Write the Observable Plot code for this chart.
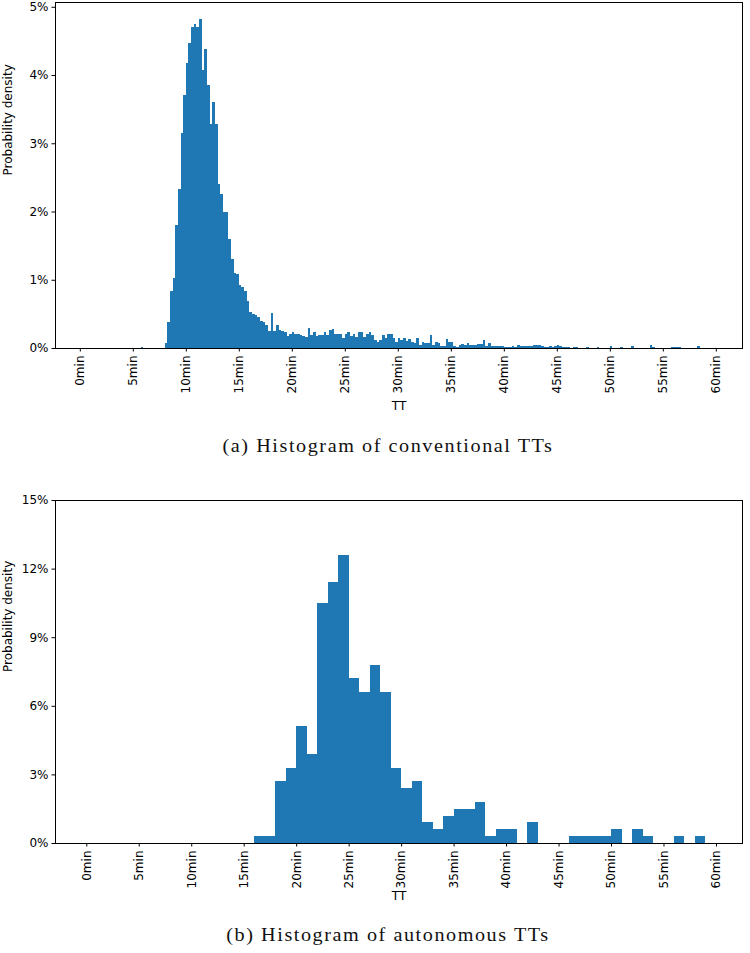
<!DOCTYPE html>
<html>
<head>
<meta charset="utf-8">
<script src="https://cdn.jsdelivr.net/npm/d3@7"></script>
<script src="https://cdn.jsdelivr.net/npm/@observablehq/plot@0.6"></script>
<style>
  html, body { margin: 0; padding: 0; background: #fff; }
  #fig { position: relative; width: 750px; height: 953px; background: #fff; }
  #fig svg { position: absolute; left: 0; }
  .caption {
    position: absolute; left: 0; width: 776px; text-align: center;
    font-family: "Liberation Serif", "DejaVu Serif", serif; font-size: 18px;
    letter-spacing: 1.4px; color: #111; white-space: nowrap;
    transform: scaleX(1.12); transform-origin: 388px 50%;
  }
</style>
</head>
<body>
<div id="fig"></div>
<script>
// Travel-time histograms, share of trips per bin (%)

// Conventional TTs: 15-second bins, contiguous run starting at 8.00 min
const conventionalBinWidth = 0.25;
const conventionalRunStart = 8.0;
const conventionalRunShare = [
  0.07, 0.38, 0.84, 1.02, 1.80, 2.33, 3.15, 3.70,          // 8.00 – 9.75
  4.17, 4.47, 4.71, 4.75, 4.70, 4.82, 4.08, 4.38,          // 10.00 – 11.75
  3.85, 3.28, 3.60, 3.28, 2.41, 2.25, 2.00, 2.00,          // 12.00 – 13.75
  1.60, 1.30, 1.10, 1.09, 0.92, 0.90, 0.83, 0.69,          // 14.00 – 15.75
  0.53, 0.50, 0.48, 0.45, 0.40, 0.38, 0.34, 0.25,          // 16.00 – 17.75
  0.51, 0.25, 0.34, 0.26, 0.25, 0.23, 0.18, 0.20,          // 18.00 – 19.75
  0.24, 0.21, 0.21, 0.19, 0.17, 0.16, 0.29, 0.19,          // 20.00 – 21.75
  0.24, 0.17, 0.19, 0.19, 0.24, 0.19, 0.26, 0.28,          // 22.00 – 23.75
  0.21, 0.21, 0.21, 0.15, 0.21, 0.24, 0.17, 0.21,          // 24.00 – 25.75
  0.16, 0.24, 0.23, 0.16, 0.21, 0.23, 0.19, 0.12,          // 26.00 – 27.75
  0.09, 0.12, 0.19, 0.14, 0.20, 0.20, 0.14, 0.09,          // 28.00 – 29.75
  0.14, 0.12, 0.14, 0.10, 0.13, 0.09, 0.08, 0.14,          // 30.00 – 31.75
  0.04, 0.09, 0.07, 0.07, 0.19, 0.04, 0.09, 0.07,          // 32.00 – 33.75
  0.03, 0.03, 0.13, 0.09, 0.09, 0.03, 0.02, 0.04,          // 34.00 – 35.75
  0.06, 0.04, 0.08, 0.04, 0.04, 0.04, 0.06, 0.06,          // 36.00 – 37.75
  0.12, 0.03, 0.07, 0.03, 0.03, 0.03, 0.03, 0.03,          // 38.00 – 39.75
  0.02, 0.02, 0.02, 0.03, 0.02, 0.04, 0.03, 0.03,          // 40.00 – 41.75
  0.03, 0.03, 0.03, 0.04, 0.04, 0.04, 0.03, 0.02,          // 42.00 – 43.75
  0.02, 0.03, 0.02, 0.03, 0.05, 0.03, 0.02, 0.02,          // 44.00 – 45.75
  0.02, 0.00, 0.02, 0.02                                   // 46.00 – 46.75
];
// Isolated conventional bins outside the contiguous run
const conventionalSparseStart = [5.75, 47.75, 48.75, 50.0, 51.0, 52.0, 53.75, 54.0, 55.75, 56.0, 56.25, 56.5, 58.25];
const conventionalSparseShare = [0.02, 0.02, 0.02, 0.03, 0.02, 0.03, 0.04, 0.02, 0.02, 0.02, 0.02, 0.02, 0.03];

// Autonomous TTs: 1-minute bins starting at 16 min
const autonomousBinWidth = 1;
const autonomousRunStart = 16;
const autonomousShare = [
  0.3, 0.3, 2.7, 3.3, 5.1, 3.9, 10.5, 11.4, 12.6, 7.2,     // 16 – 25
  6.6, 7.8, 6.6, 3.3, 2.4, 2.7, 0.9, 0.6, 1.2, 1.5,        // 26 – 35
  1.5, 1.8, 0.3, 0.6, 0.6, 0.0, 0.9, 0.0, 0.0, 0.0,        // 36 – 45
  0.3, 0.3, 0.3, 0.3, 0.6, 0.0, 0.6, 0.3, 0.0, 0.0,        // 46 – 55
  0.3, 0.0, 0.3                                            // 56 – 58
];

// Axis ticks
const minuteTicks = [0, 5, 10, 15, 20, 25, 30, 35, 40, 45, 50, 55, 60];
const conventionalPctTicks = [0, 1, 2, 3, 4, 5];
const autonomousPctTicks = [0, 3, 6, 9, 12, 15];

const axisLabelX = "TT";
const axisLabelY = "Probability density";
const captionTop = "(a) Histogram of conventional TTs";
const captionBottom = "(b) Histogram of autonomous TTs";

const barColor = "#1f77b4";

function toBins(start, width, shares) {
  return shares.map((v, i) => ({x1: start + i * width, x2: start + (i + 1) * width, v}));
}

const conventionalBins = toBins(conventionalRunStart, conventionalBinWidth, conventionalRunShare)
  .concat(conventionalSparseStart.map((s, i) => ({x1: s, x2: s + conventionalBinWidth, v: conventionalSparseShare[i]})))
  .filter(d => d.v > 0);
const autonomousBins = toBins(autonomousRunStart, autonomousBinWidth, autonomousShare).filter(d => d.v > 0);

function histogram({bins, xDomain, yDomain, yTicks, height, marginTop, marginBottom, labelDy}) {
  return Plot.plot({
    width: 750,
    height,
    marginLeft: 55,
    marginRight: 8,
    marginTop,
    marginBottom,
    style: {fontFamily: "DejaVu Sans, sans-serif", fontSize: "12px", background: "white", color: "black", overflow: "visible"},
    x: {domain: xDomain},
    y: {domain: yDomain},
    marks: [
      Plot.rectY(bins, {x1: "x1", x2: "x2", y: "v", fill: barColor, inset: 0, shapeRendering: "crispEdges"}),
      Plot.frame({stroke: "black", strokeWidth: 1}),
      Plot.axisX({
        ticks: minuteTicks, tickFormat: d => `${d}min`, tickRotate: -90,
        tickSize: 3.5, tickPadding: 3.5, label: null, fontSize: 12
      }),
      Plot.axisY({
        ticks: yTicks, tickFormat: d => `${d}%`,
        tickSize: 3.5, tickPadding: 3.5, label: null, fontSize: 12
      }),
      Plot.text([axisLabelX], {text: d => d, frameAnchor: "bottom", dy: labelDy, fontSize: 12}),
      Plot.text([axisLabelY], {text: d => d, frameAnchor: "left", dx: -47, rotate: -90, fontSize: 12})
    ]
  });
}

const fig = document.getElementById("fig");

const chartConventional = histogram({
  bins: conventionalBins,
  xDomain: [-2.34, 62.47],
  yDomain: [0, 5.07],
  yTicks: conventionalPctTicks,
  height: 425, marginTop: 2, marginBottom: 77, labelDy: 61
});
chartConventional.style.top = "0px";
fig.appendChild(chartConventional);

const capA = document.createElement("div");
capA.className = "caption";
capA.style.top = "436px";
capA.textContent = captionTop;
fig.appendChild(capA);

const chartAutonomous = histogram({
  bins: autonomousBins,
  xDomain: [-2.98, 62.48],
  yDomain: [0, 15],
  yTicks: autonomousPctTicks,
  height: 435, marginTop: 20, marginBottom: 72, labelDy: 56
});
chartAutonomous.style.top = "480px";
fig.appendChild(chartAutonomous);

const capB = document.createElement("div");
capB.className = "caption";
capB.style.top = "925px";
capB.textContent = captionBottom;
fig.appendChild(capB);
</script>
</body>
</html>
